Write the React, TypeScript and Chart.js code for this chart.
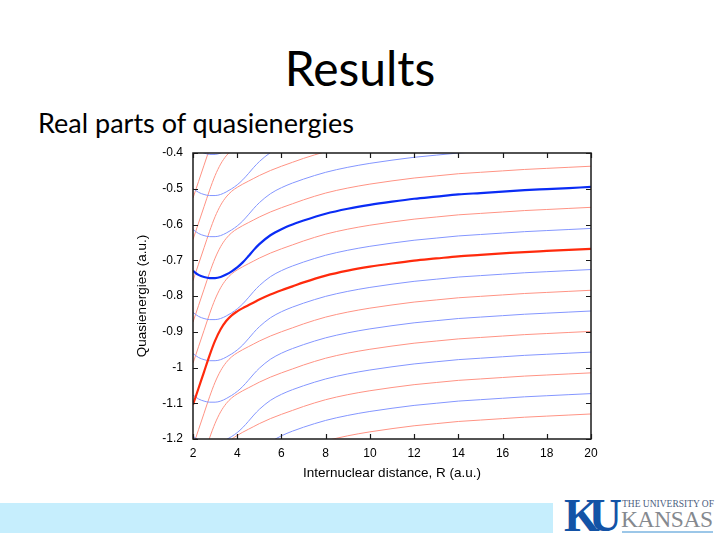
import React, { useEffect, useRef } from "react";
import { Chart, registerables } from "chart.js";

Chart.register(...registerables);

const N = null;

// Internuclear distance grid R (a.u.)
const rGrid = [2, 2.25, 2.5, 2.75, 3, 3.25, 3.5, 3.75, 4, 4.25, 4.5, 4.75, 5, 5.5, 6, 6.5, 7, 8, 9, 10, 11, 12, 13, 14, 15, 16, 17, 18, 19, 20];

// Highlighted branches
const redThick = [-1.104, -1.058, -1.012, -0.966, -0.925, -0.893, -0.870, -0.854, -0.843, -0.834, -0.826, -0.818, -0.810, -0.796, -0.784, -0.773, -0.762, -0.743, -0.729, -0.718, -0.709, -0.701, -0.695, -0.689, -0.685, -0.681, -0.677, -0.674, -0.671, -0.668];
const blueThick = [-0.730, -0.741, -0.747, -0.750, -0.750, -0.747, -0.740, -0.731, -0.720, -0.706, -0.689, -0.671, -0.655, -0.630, -0.613, -0.600, -0.589, -0.570, -0.556, -0.545, -0.536, -0.528, -0.522, -0.516, -0.512, -0.508, -0.504, -0.501, -0.498, -0.495];

// Thin red branches
const redM3 = [-0.410, -0.364, N, N, N, N, N, N, N, N, N, N, N, N, N, N, N, N, N, N, N, N, N, N, N, N, N, N, N, N];
const redM2 = [-0.526, -0.480, -0.434, -0.388, N, N, N, N, N, N, N, N, N, N, N, N, N, N, N, N, N, N, N, N, N, N, N, N, N, N];
const redM1 = [-0.642, -0.596, -0.550, -0.504, -0.463, -0.431, -0.408, -0.392, N, N, N, N, N, N, N, N, N, N, N, N, N, N, N, N, N, N, N, N, N, N];
const red0 = [-0.757, -0.711, -0.665, -0.619, -0.578, -0.546, -0.523, -0.507, -0.496, -0.487, -0.479, -0.471, -0.463, -0.449, -0.437, -0.426, -0.415, -0.396, N, N, N, N, N, N, N, N, N, N, N, N];
const red1 = [-0.873, -0.827, -0.781, -0.735, -0.694, -0.662, -0.639, -0.623, -0.612, -0.603, -0.595, -0.587, -0.579, -0.565, -0.553, -0.542, -0.531, -0.512, -0.498, -0.487, -0.478, -0.470, -0.464, -0.458, -0.454, -0.450, -0.446, -0.443, -0.440, -0.437];
const red2 = [-0.988, -0.942, -0.896, -0.850, -0.809, -0.777, -0.754, -0.738, -0.727, -0.718, -0.710, -0.702, -0.694, -0.680, -0.668, -0.657, -0.646, -0.627, -0.613, -0.602, -0.593, -0.585, -0.579, -0.573, -0.569, -0.565, -0.561, -0.558, -0.555, -0.552];
const red4 = [-1.220, -1.174, -1.128, -1.082, -1.041, -1.009, -0.986, -0.970, -0.959, -0.950, -0.942, -0.934, -0.926, -0.912, -0.900, -0.889, -0.878, -0.859, -0.845, -0.834, -0.825, -0.817, -0.811, -0.805, -0.801, -0.797, -0.793, -0.790, -0.787, -0.784];
const red5 = [N, N, -1.243, -1.197, -1.156, -1.124, -1.101, -1.085, -1.074, -1.065, -1.057, -1.049, -1.041, -1.027, -1.015, -1.004, -0.993, -0.974, -0.960, -0.949, -0.940, -0.932, -0.926, -0.920, -0.916, -0.912, -0.908, -0.905, -0.902, -0.899];
const red6 = [N, N, N, N, N, N, -1.217, -1.201, -1.190, -1.181, -1.173, -1.165, -1.157, -1.143, -1.131, -1.120, -1.109, -1.090, -1.076, -1.065, -1.056, -1.048, -1.042, -1.036, -1.032, -1.028, -1.024, -1.021, -1.018, -1.015];
const red7 = [N, N, N, N, N, N, N, N, N, N, N, N, N, N, N, N, N, -1.205, -1.191, -1.180, -1.171, -1.163, -1.157, -1.151, -1.147, -1.143, -1.139, -1.136, -1.133, -1.130];

// Thin blue branches
const blueM1 = [-0.383, -0.394, -0.400, -0.404, -0.404, -0.400, -0.393, N, N, N, N, N, N, N, N, N, N, N, N, N, N, N, N, N, N, N, N, N, N, N];
const blue0 = [-0.499, -0.510, -0.516, -0.519, -0.519, -0.516, -0.509, -0.500, -0.489, -0.475, -0.458, -0.440, -0.424, -0.399, -0.382, N, N, N, N, N, N, N, N, N, N, N, N, N, N, N];
const blue1 = [-0.614, -0.625, -0.631, -0.634, -0.634, -0.631, -0.624, -0.615, -0.604, -0.590, -0.573, -0.555, -0.539, -0.514, -0.497, -0.484, -0.473, -0.454, -0.440, -0.429, -0.420, -0.412, -0.406, -0.400, -0.396, N, N, N, N, N];
const blue3 = [-0.846, -0.857, -0.863, -0.866, -0.866, -0.863, -0.856, -0.847, -0.836, -0.822, -0.805, -0.787, -0.771, -0.746, -0.729, -0.716, -0.705, -0.686, -0.672, -0.661, -0.652, -0.644, -0.638, -0.632, -0.628, -0.624, -0.620, -0.617, -0.614, -0.611];
const blue4 = [-0.961, -0.972, -0.978, -0.981, -0.981, -0.978, -0.971, -0.962, -0.951, -0.937, -0.920, -0.902, -0.886, -0.861, -0.844, -0.831, -0.820, -0.801, -0.787, -0.776, -0.767, -0.759, -0.753, -0.747, -0.743, -0.739, -0.735, -0.732, -0.729, -0.726];
const blue5 = [-1.077, -1.088, -1.094, -1.097, -1.097, -1.094, -1.087, -1.078, -1.067, -1.053, -1.036, -1.018, -1.002, -0.977, -0.960, -0.947, -0.936, -0.917, -0.903, -0.892, -0.883, -0.875, -0.869, -0.863, -0.859, -0.855, -0.851, -0.848, -0.845, -0.842];
const blue6 = [-1.192, -1.203, -1.209, -1.212, -1.212, -1.209, -1.202, -1.193, -1.182, -1.168, -1.151, -1.133, -1.117, -1.092, -1.075, -1.062, -1.051, -1.032, -1.018, -1.007, -0.998, -0.990, -0.984, -0.978, -0.974, -0.970, -0.966, -0.963, -0.960, -0.957];
const blue7 = [N, N, N, N, N, N, N, N, N, N, N, N, N, -1.208, -1.191, -1.178, -1.167, -1.148, -1.134, -1.123, -1.114, -1.106, -1.100, -1.094, -1.090, -1.086, -1.082, -1.079, -1.076, -1.073];

// Axis ticks
const xTickValues = [2, 4, 6, 8, 10, 12, 14, 16, 18, 20];
const xTickLabels = ["2", "4", "6", "8", "10", "12", "14", "16", "18", "20"];
const yTickValues = [-1.2, -1.1, -1.0, -0.9, -0.8, -0.7, -0.6, -0.5, -0.4];
const yTickLabels = ["-1.2", "-1.1", "-1", "-0.9", "-0.8", "-0.7", "-0.6", "-0.5", "-0.4"];

const thinRed = [redM3, redM2, redM1, red0, red1, red2, red4, red5, red6, red7];
const thinBlue = [blueM1, blue0, blue1, blue3, blue4, blue5, blue6, blue7];

const COLORS = {
  thinRed: "#ff9384",
  thinBlue: "#8496ff",
  thickRed: "#ff2a0c",
  thickBlue: "#0a2cf5",
};

function toPoints(vals: (number | null)[]) {
  return rGrid
    .map((r, i) => ({ x: r, y: vals[i] }))
    .filter((p) => p.y !== null) as { x: number; y: number }[];
}

const framePlugin = {
  id: "gnuplotFrame",
  afterDatasetsDraw(chart: any) {
    const { ctx, chartArea: a, scales } = chart;
    const xs = scales.x;
    const ys = scales.y;
    const len = 5;
    ctx.save();
    ctx.strokeStyle = "#1a1a1a";
    ctx.lineWidth = 1.2;
    ctx.beginPath();
    xTickValues.forEach((v) => {
      const px = Math.round(xs.getPixelForValue(v)) + 0.5;
      ctx.moveTo(px, a.bottom);
      ctx.lineTo(px, a.bottom - len);
      ctx.moveTo(px, a.top);
      ctx.lineTo(px, a.top + len);
    });
    yTickValues.forEach((v) => {
      const py = Math.round(ys.getPixelForValue(v)) + 0.5;
      ctx.moveTo(a.left, py);
      ctx.lineTo(a.left + len, py);
      ctx.moveTo(a.right, py);
      ctx.lineTo(a.right - len, py);
    });
    ctx.stroke();
    ctx.lineWidth = 1.5;
    ctx.strokeRect(a.left, a.top, a.right - a.left, a.bottom - a.top);
    ctx.restore();
  },
};

export default function App() {
  const ref = useRef<HTMLCanvasElement | null>(null);

  useEffect(() => {
    if (!ref.current) return;
    const datasets: any[] = [];
    datasets.push({
      data: toPoints(blueThick),
      borderColor: COLORS.thickBlue,
      borderWidth: 2.2,
    });
    datasets.push({
      data: toPoints(redThick),
      borderColor: COLORS.thickRed,
      borderWidth: 2.2,
    });
    thinBlue.forEach((vals) =>
      datasets.push({ data: toPoints(vals), borderColor: COLORS.thinBlue, borderWidth: 1 })
    );
    thinRed.forEach((vals) =>
      datasets.push({ data: toPoints(vals), borderColor: COLORS.thinRed, borderWidth: 1 })
    );
    datasets.forEach((d) => {
      d.pointRadius = 0;
      d.fill = false;
      d.cubicInterpolationMode = "monotone";
    });

    const chart = new Chart(ref.current, {
      type: "line",
      data: { datasets },
      plugins: [framePlugin],
      options: {
        animation: false,
        responsive: false,
        events: [],
        layout: { padding: { left: 0, right: 19, top: 13, bottom: 0 } },
        plugins: { legend: { display: false }, tooltip: { enabled: false } },
        scales: {
          x: {
            type: "linear",
            min: 2,
            max: 20,
            afterFit: (s: any) => {
              s.height = 51;
              s.paddingLeft = 0;
              s.paddingRight = 0;
            },
            afterBuildTicks: (s: any) => {
              s.ticks = xTickValues.map((v) => ({ value: v }));
            },
            ticks: {
              callback: (_v: any, i: number) => xTickLabels[i],
              color: "#000",
              padding: 7,
              maxRotation: 0,
              autoSkip: false,
              font: { family: "'Liberation Sans', Arial, sans-serif", size: 12 },
            },
            grid: { display: false, drawTicks: false },
            border: { display: false },
            title: {
              display: true,
              text: "Internuclear distance, R (a.u.)",
              color: "#000",
              padding: { top: 0, bottom: 9 },
              font: { family: "'Liberation Sans', Arial, sans-serif", size: 13.5 },
            },
          },
          y: {
            type: "linear",
            min: -1.2,
            max: -0.4,
            afterFit: (s: any) => {
              s.width = 63;
              s.paddingTop = 0;
              s.paddingBottom = 0;
            },
            afterBuildTicks: (s: any) => {
              s.ticks = yTickValues.map((v) => ({ value: v }));
            },
            ticks: {
              callback: (_v: any, i: number) => yTickLabels[i],
              color: "#000",
              padding: 10,
              autoSkip: false,
              font: { family: "'Liberation Sans', Arial, sans-serif", size: 12 },
            },
            grid: { display: false, drawTicks: false },
            border: { display: false },
            title: {
              display: true,
              text: "Quasienergies (a.u.)",
              color: "#000",
              padding: { top: 4, bottom: 0 },
              font: { family: "'Liberation Sans', Arial, sans-serif", size: 13.5 },
            },
          },
        },
      } as any,
    });
    return () => chart.destroy();
  }, []);

  return (
    <div
      style={{
        position: "absolute",
        left: 0,
        top: 0,
        width: 720,
        height: 540,
        overflow: "hidden",
        background: "#ffffff",
      }}
    >
      <div
        style={{
          position: "absolute",
          left: 0,
          top: 44,
          width: 720,
          textAlign: "center",
          fontFamily: "Lato, 'Open Sans', sans-serif",
          fontSize: 48,
          lineHeight: "48px",
          color: "#000",
        }}
      >
        Results
      </div>
      <div
        style={{
          position: "absolute",
          left: 38,
          top: 109,
          fontFamily: "Lato, 'Open Sans', sans-serif",
          fontSize: 27,
          lineHeight: "27px",
          color: "#000",
          whiteSpace: "nowrap",
        }}
      >
        Real parts of quasienergies
      </div>
      <canvas
        ref={ref}
        width={480}
        height={350}
        style={{ position: "absolute", left: 130, top: 140, width: 480, height: 350 }}
      />
      <div
        style={{
          position: "absolute",
          left: 0,
          top: 503,
          width: 553,
          height: 30,
          background: "#c6eefd",
        }}
      />
      <div
        style={{
          position: "absolute",
          left: 564,
          top: 493,
          fontFamily: "'Liberation Serif', 'DejaVu Serif', serif",
          fontWeight: 700,
          fontSize: 46,
          lineHeight: "46px",
          letterSpacing: -11,
          color: "#1353a6",
          whiteSpace: "nowrap",
        }}
      >
        KU
      </div>
      <div
        style={{
          position: "absolute",
          left: 622,
          top: 500,
          fontFamily: "'Liberation Serif', 'DejaVu Serif', serif",
          fontSize: 9.5,
          lineHeight: "9.5px",
          color: "#4d5e80",
          whiteSpace: "nowrap",
        }}
      >
        THE UNIVERSITY OF
      </div>
      <div
        style={{
          position: "absolute",
          left: 621,
          top: 507.5,
          fontFamily: "'Liberation Serif', 'DejaVu Serif', serif",
          fontSize: 23.5,
          lineHeight: "23.5px",
          letterSpacing: -0.4,
          color: "#85898f",
          whiteSpace: "nowrap",
        }}
      >
        KANSAS
      </div>
      <div
        style={{
          position: "absolute",
          left: 622,
          top: 531,
          width: 91,
          height: 1.5,
          background: "#9cc7e8",
        }}
      />
    </div>
  );
}
